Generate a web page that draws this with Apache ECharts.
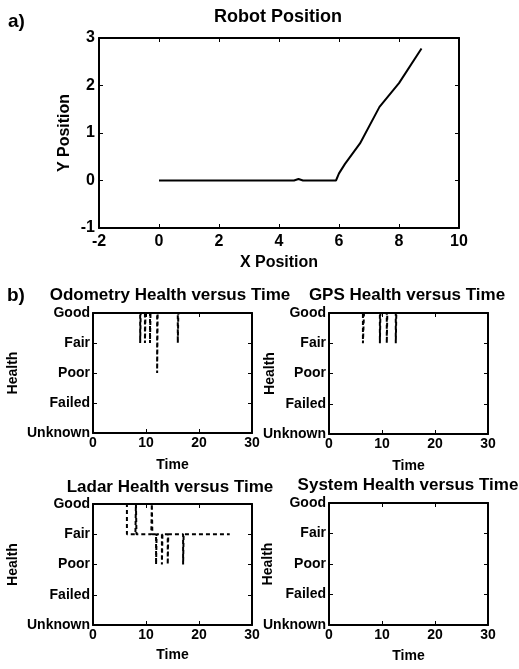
<!DOCTYPE html>
<html><head><meta charset="utf-8">
<script src="https://cdn.jsdelivr.net/npm/echarts@6/dist/echarts.min.js"></script>
<style>html,body{margin:0;padding:0;background:#fff}#c{width:519px;height:669px}</style>
</head><body><div id="c"></div>
<script>
// ---- data ----
const robotX = [0, 4.5, 4.65, 4.8, 5.9, 6.0, 6.2, 6.7, 7.35, 8.0, 8.75];
const robotY = [0, 0, 0.03, 0, 0, 0.15, 0.35, 0.78, 1.55, 2.05, 2.78];
const healthLabels = ['Unknown', 'Failed', 'Poor', 'Fair', 'Good'];
const odoT = [0, 8.9, 8.9, 9.0, 9.8, 9.8, 9.9, 10.75, 10.75, 10.85, 12.1, 12.1, 12.2, 16.0, 16.0, 16.1, 30];
const odoH = [4, 4, 3, 4, 4, 3, 4, 4, 3, 4, 4, 2, 4, 4, 3, 4, 4];
const gpsT = [0, 6.4, 6.4, 6.6, 9.6, 9.6, 9.7, 10.9, 10.9, 11.0, 12.6, 12.6, 12.7, 30];
const gpsH = [4, 4, 3, 4, 4, 3, 4, 4, 3, 4, 4, 3, 4, 4];
const ladarT = [0, 0, 6.4, 6.4, 8.0, 8.1, 8.2, 11.0, 11.1, 11.2, 11.9, 11.9, 12.0, 13.0, 13.0, 13.1, 14.1, 14.1, 14.2, 17.0, 17.0, 17.1, 25.8];
const ladarH = [0, 4, 4, 3, 3, 4, 3, 3, 4, 3, 3, 2, 3, 3, 2, 3, 3, 2, 3, 3, 2, 3, 3];
const sysT = [0, 30];
const sysH = [4, 4];
const titles = ['Robot Position', 'Odometry Health versus Time', 'GPS Health versus Time', 'Ladar Health versus Time', 'System Health versus Time'];

const FONT = "'Liberation Sans', Arial, sans-serif";
const pairs = (a, b) => a.map((v, i) => [v, b[i]]);

const grids = [
  {left: 99, top: 38, width: 360, height: 190},
  {left: 93, top: 313, width: 159, height: 120},
  {left: 329, top: 313, width: 159, height: 121},
  {left: 93, top: 504, width: 159, height: 121},
  {left: 329, top: 503, width: 159, height: 122}
];
const healthGap = [0, 73, 52, 73, 54];
const timeGap = [0, 25, 25, 23, 24];

const line = {show: true, onZero: false, lineStyle: {color: '#000', width: 2}};
const tick = {show: true, inside: true, length: 4, lineStyle: {color: '#000', width: 1}};

const xAxis = [], yAxis = [], series = [];
grids.forEach((g, i) => {
  const top = i === 0;
  const xr = top ? {min: -2, max: 10, interval: 2} : {min: 0, max: 30, interval: 10};
  const yr = top ? {min: -1, max: 3, interval: 1} : {min: 0, max: 4, interval: 1};
  const fs = top ? 16 : 14;
  xAxis.push(Object.assign({
    type: 'value', gridIndex: i, position: 'bottom',
    axisLine: line, axisTick: tick, splitLine: {show: false},
    axisLabel: {color: '#000', fontFamily: FONT, fontWeight: 'bold', fontSize: fs, margin: top ? 6 : 3},
    name: top ? 'X Position' : 'Time', nameLocation: 'middle', nameGap: top ? 27 : timeGap[i],
    nameMoveOverlap: false,
    nameTextStyle: {color: '#000', fontFamily: FONT, fontWeight: 'bold', fontSize: top ? 16 : 14}
  }, xr));
  xAxis.push(Object.assign({
    type: 'value', gridIndex: i, position: 'top',
    axisLine: line, axisTick: tick, splitLine: {show: false}, axisLabel: {show: false}
  }, xr));
  yAxis.push(Object.assign({
    type: 'value', gridIndex: i, position: 'left',
    axisLine: line, axisTick: tick, splitLine: {show: false},
    axisLabel: {color: '#000', fontFamily: FONT, fontWeight: 'bold', fontSize: fs, margin: top ? 4 : 3,
      formatter: top ? null : (v) => healthLabels[v] || ''},
    name: top ? 'Y Position' : 'Health', nameLocation: 'middle', nameGap: top ? 26 : healthGap[i],
    nameMoveOverlap: false,
    nameTextStyle: {color: '#000', fontFamily: FONT, fontWeight: 'bold', fontSize: top ? 16 : 14}
  }, yr));
  yAxis.push(Object.assign({
    type: 'value', gridIndex: i, position: 'right',
    axisLine: line, axisTick: tick, splitLine: {show: false}, axisLabel: {show: false}
  }, yr));
});

const dataSets = [pairs(robotX, robotY), pairs(odoT, odoH), pairs(gpsT, gpsH), pairs(ladarT, ladarH), pairs(sysT, sysH)];
dataSets.forEach((d, i) => {
  series.push({
    type: 'line', xAxisIndex: 2 * i, yAxisIndex: 2 * i, data: d,
    showSymbol: false, symbol: 'none', animation: false, clip: true,
    lineStyle: {color: '#000', width: 2, type: i === 0 ? 'solid' : [4, 3]}
  });
});

const titleCenters = [[278, 17], [170, 295], [407, 295], [170, 487], [408, 485]];
const title = titles.map((t, i) => ({
  text: t, left: titleCenters[i][0], top: titleCenters[i][1] - (i === 0 ? 9 : 8.5),
  textAlign: 'center', padding: 0,
  textStyle: {color: '#000', fontFamily: FONT, fontWeight: 'bold', fontSize: i === 0 ? 18 : 17}
}));
title.push({text: 'a)', left: 8, top: 12, padding: 0, textStyle: {color: '#000', fontFamily: FONT, fontWeight: 'bold', fontSize: 19}});
title.push({text: 'b)', left: 7, top: 286, padding: 0, textStyle: {color: '#000', fontFamily: FONT, fontWeight: 'bold', fontSize: 19}});

const chart = echarts.init(document.getElementById('c'));
chart.setOption({
  backgroundColor: '#fff', animation: false,
  title, grid: grids, xAxis, yAxis, series
});
</script></body></html>
